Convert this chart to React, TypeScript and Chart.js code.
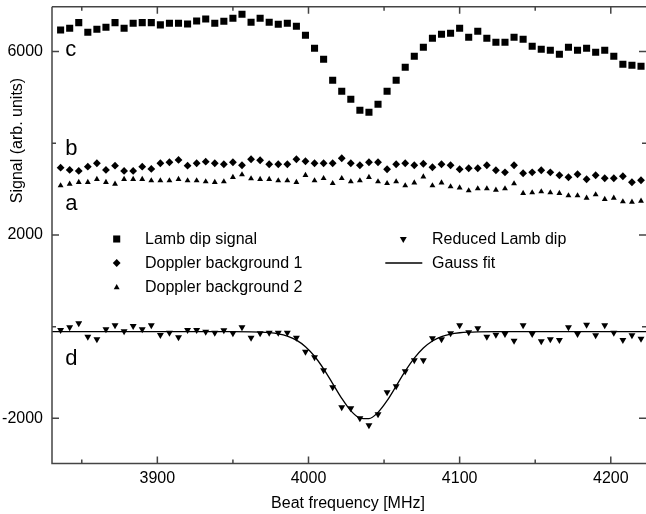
import React, { useEffect, useRef } from 'react';
import { Chart, registerables } from 'chart.js';
import { drawPoint } from 'chart.js/helpers';

Chart.register(...registerables);

// ---------- data ----------
const freq = [
  3836, 3842, 3848, 3854, 3860, 3866, 3872, 3878, 3884, 3890,
  3896, 3902, 3908, 3914, 3920, 3926, 3932, 3938, 3944, 3950,
  3956, 3962, 3968, 3974, 3980, 3986, 3992, 3998, 4004, 4010,
  4016, 4022, 4028, 4034, 4040, 4046, 4052, 4058, 4064, 4070,
  4076, 4082, 4088, 4094, 4100, 4106, 4112, 4118, 4124, 4130,
  4136, 4142, 4148, 4154, 4160, 4166, 4172, 4178, 4184, 4190,
  4196, 4202, 4208, 4214, 4220,
];

const lambDipSignal = [
  6473, 6511, 6633, 6423, 6489, 6532, 6633, 6511, 6620, 6633,
  6633, 6583, 6620, 6620, 6604, 6670, 6710, 6620, 6663, 6729,
  6816, 6641, 6729, 6641, 6598, 6620, 6554, 6358, 6074, 5834,
  5376, 5136, 4961, 4721, 4678, 4852, 5136, 5376, 5660, 5900,
  6096, 6292, 6380, 6401, 6511, 6314, 6445, 6292, 6205, 6205,
  6314, 6271, 6118, 6052, 6031, 5943, 6096, 6031, 6074, 5987,
  6031, 5900, 5725, 5703, 5681,
];

const dopplerBackground1 = [
  3469, 3419, 3397, 3491, 3565, 3419, 3513, 3397, 3397, 3491,
  3441, 3565, 3587, 3637, 3513, 3565, 3600, 3565, 3543, 3587,
  3521, 3652, 3630, 3543, 3543, 3543, 3652, 3608, 3565, 3565,
  3565, 3674, 3565, 3521, 3587, 3587, 3434, 3543, 3565, 3521,
  3554, 3478, 3543, 3521, 3434, 3456, 3456, 3521, 3412, 3368,
  3521, 3347, 3368, 3412, 3368, 3303, 3259, 3325, 3216, 3303,
  3238, 3238, 3281, 3150, 3194,
];

const dopplerBackground2 = [
  3076, 3113, 3150, 3150, 3216, 3150, 3113, 3216, 3216, 3216,
  3185, 3185, 3185, 3216, 3185, 3185, 3163, 3150, 3163, 3259,
  3316, 3229, 3216, 3216, 3185, 3185, 3150, 3303, 3185, 3237,
  3128, 3237, 3163, 3185, 3259, 3163, 3128, 3163, 3076, 3141,
  3272, 3076, 3141, 3054, 3032, 2967, 3011, 3011, 2982, 3011,
  3120, 2910, 2923, 2945, 2923, 2910, 2858, 2858, 2808, 2880,
  2780, 2808, 2727, 2720, 2742,
];

const reducedLambDip = [
  -72, -13, 74, -218, -275, -57, 31, -100, 15, -57,
  31, -181, -131, -231, -72, -72, -109, -131, -79, -144,
  -13, -240, -144, -131, -131, -131, -240, -546, -668, -952,
  -1323, -1759, -1781, -2000, -2152, -1912, -1432, -1301, -974, -733,
  -733, -253, -275, -144, 31, -122, -35, -218, -175, -159,
  -305, 31, -159, -319, -275, -290, -13, -159, 44, -188,
  31, -131, -290, -188, -262,
];

const gaussFitX = [
  3830, 3950, 3962, 3968, 3974, 3980, 3986, 3992, 3998, 4004,
  4010, 4016, 4022, 4028, 4034, 4040, 4046, 4052, 4058, 4064,
  4070, 4076, 4082, 4088, 4094, 4100, 4106, 4112, 4124, 4224,
];
const gaussFitY = [
  -110, -110, -113, -118, -130, -155, -205, -293, -436, -645,
  -920, -1241, -1565, -1835, -1993, -2006, -1869, -1615, -1296, -971,
  -687, -466, -312, -216, -161, -133, -120, -114, -110, -110,
];

const xMajorTicks = [3900, 4000, 4100, 4200];
const xMinorTicks = [3850, 3950, 4050, 4150];
const yMajorTicks = [-2000, 2000, 6000];
const yMinorTicks = [0, 4000];

const X_MIN = 3830.3;
const X_MAX = 4223.3;
const Y_MIN = -2985;
const Y_MAX = 6980;

const curveLabels = [
  { text: 'c', x: 3839, y: 5906 },
  { text: 'b', x: 3839, y: 3746 },
  { text: 'a', x: 3839, y: 2546 },
  { text: 'd', x: 3839, y: -836 },
];

const xTitle = 'Beat frequency [MHz]';
const yTitle = 'Signal (arb. units)';

const FONT_FAMILY = '"Liberation Sans", Arial, Helvetica, sans-serif';

// ---------- styles ----------
const seriesStyles = {
  lamb: { pointStyle: 'rect', radius: 5, rotation: 0 },
  bg1: { pointStyle: 'rectRot', radius: 3.9, rotation: 0 },
  bg2: { pointStyle: 'triangle', radius: 3.4, rotation: 0 },
  reduced: { pointStyle: 'triangle', radius: 4, rotation: 180 },
};

const framePlugin = {
  id: 'framePlugin',
  afterDraw(chart: any) {
    const { ctx, chartArea, scales } = chart;
    const xs = scales.x;
    const ys = scales.y;
    const { left, right, top, bottom } = chartArea;
    ctx.save();
    // frame
    ctx.strokeStyle = '#444';
    ctx.lineWidth = 1.5;
    ctx.beginPath();
    ctx.moveTo(left, top);
    ctx.lineTo(right + 1, top);
    ctx.moveTo(left, top);
    ctx.lineTo(left, bottom);
    ctx.lineTo(right + 1, bottom);
    ctx.moveTo(right + 0.8, top);
    ctx.lineTo(right + 0.8, bottom);
    ctx.stroke();
    // ticks (inside)
    const tick = (vals: number[], len: number) => {
      ctx.beginPath();
      vals.forEach((v) => {
        const px = xs.getPixelForValue(v);
        ctx.moveTo(px, bottom);
        ctx.lineTo(px, bottom - len);
        ctx.moveTo(px, top);
        ctx.lineTo(px, top + len);
      });
      ctx.stroke();
    };
    const ytick = (vals: number[], len: number) => {
      ctx.beginPath();
      vals.forEach((v) => {
        const py = ys.getPixelForValue(v);
        ctx.moveTo(left, py);
        ctx.lineTo(left + len, py);
        ctx.moveTo(right, py);
        ctx.lineTo(right - len, py);
      });
      ctx.stroke();
    };
    tick(xMajorTicks, 7);
    tick(xMinorTicks, 4);
    ytick(yMajorTicks, 7);
    ytick(yMinorTicks, 4);

    ctx.fillStyle = '#000';
    // axis titles
    ctx.font = `16px ${FONT_FAMILY}`;
    ctx.textAlign = 'center';
    ctx.textBaseline = 'alphabetic';
    ctx.fillText(xTitle, (left + right) / 2 - 1, 507.5);
    ctx.save();
    ctx.translate(22, 140.5);
    ctx.rotate(-Math.PI / 2);
    ctx.fillText(yTitle, 0, 0);
    ctx.restore();

    // curve letters
    ctx.font = `22px ${FONT_FAMILY}`;
    ctx.textAlign = 'left';
    curveLabels.forEach((l) => {
      ctx.fillText(l.text, xs.getPixelForValue(l.x), ys.getPixelForValue(l.y));
    });

    // legend
    const ds = chart.data.datasets;
    ctx.font = `16px ${FONT_FAMILY}`;
    const items = [
      { i: 0, sx: 116.7, tx: 145, y: 239 },
      { i: 1, sx: 116.7, tx: 145, y: 263 },
      { i: 2, sx: 116.7, tx: 145, y: 287.5 },
      { i: 3, sx: 403.3, tx: 432, y: 239 },
      { i: 4, sx: 403.3, tx: 432, y: 263 },
    ];
    items.forEach((it) => {
      const d = ds[it.i];
      ctx.fillStyle = '#000';
      ctx.strokeStyle = '#000';
      if (d.showLine) {
        ctx.lineWidth = 1.3;
        ctx.beginPath();
        ctx.moveTo(it.sx - 18, it.y);
        ctx.lineTo(it.sx + 19, it.y);
        ctx.stroke();
      } else {
        drawPoint(ctx, {
          pointStyle: d.pointStyle,
          rotation: d.rotation || 0,
          radius: d.pointRadius,
          borderWidth: 0,
        } as any, it.sx, it.y);
      }
      ctx.fillStyle = '#000';
      ctx.fillText(d.label, it.tx, it.y + 4.5);
    });
    ctx.restore();
  },
};

const zeroPad = (s: any) => {
  s.paddingLeft = 0;
  s.paddingRight = 0;
  s.paddingTop = 0;
  s.paddingBottom = 0;
};

export default function App() {
  const ref = useRef<HTMLCanvasElement>(null);

  useEffect(() => {
    if (!ref.current) return;
    const pts = (ys: number[]) => ys.map((y, i) => ({ x: freq[i], y }));
    const scatter = (label: string, data: number[], st: any) => ({
      label,
      data: pts(data),
      showLine: false,
      pointStyle: st.pointStyle,
      pointRadius: st.radius,
      rotation: st.rotation,
      pointRotation: st.rotation,
      backgroundColor: '#000',
      borderColor: '#000',
      borderWidth: 0,
      pointBorderWidth: 0,
    });
    const chart = new Chart(ref.current, {
      type: 'scatter',
      data: {
        datasets: [
          scatter('Lamb dip signal', lambDipSignal, seriesStyles.lamb),
          scatter('Doppler background 1', dopplerBackground1, seriesStyles.bg1),
          scatter('Doppler background 2', dopplerBackground2, seriesStyles.bg2),
          scatter('Reduced Lamb dip', reducedLambDip, seriesStyles.reduced),
          {
            label: 'Gauss fit',
            data: gaussFitX.map((x, i) => ({ x, y: gaussFitY[i] })),
            showLine: true,
            pointRadius: 0,
            borderColor: '#000',
            backgroundColor: '#000',
            borderWidth: 1.3,
            cubicInterpolationMode: 'monotone',
            fill: false,
          } as any,
        ],
      },
      options: {
        responsive: false,
        animation: false,
        devicePixelRatio: 1,
        layout: { autoPadding: false, padding: { top: 6.7, right: 0, left: 0, bottom: 0 } },
        plugins: {
          legend: { display: false },
          tooltip: { enabled: false },
        },
        scales: {
          x: {
            type: 'linear',
            min: X_MIN,
            max: X_MAX,
            afterFit: (s: any) => { s.height = 50.5; zeroPad(s); },
            afterBuildTicks: (s: any) => { s.ticks = xMajorTicks.map((v) => ({ value: v })); },
            grid: { display: false, drawTicks: false },
            border: { display: false },
            ticks: {
              color: '#000',
              font: { family: FONT_FAMILY, size: 16 },
              padding: 5,
              maxRotation: 0,
              autoSkip: false,
              callback: (v: any) => String(v),
            },
          },
          y: {
            type: 'linear',
            min: Y_MIN,
            max: Y_MAX,
            afterFit: (s: any) => { s.width = 52; zeroPad(s); },
            afterBuildTicks: (s: any) => { s.ticks = yMajorTicks.map((v) => ({ value: v })); },
            grid: { display: false, drawTicks: false },
            border: { display: false },
            ticks: {
              color: '#000',
              font: { family: FONT_FAMILY, size: 16 },
              padding: 9,
              autoSkip: false,
              callback: (v: any) => String(v),
            },
          },
        },
      } as any,
      plugins: [framePlugin],
    });
    return () => chart.destroy();
  }, []);

  return (
    <div style={{ position: 'fixed', left: 0, top: 0, width: 646, height: 514, background: '#fff' }}>
      <canvas ref={ref} width={646} height={514} style={{ display: 'block', width: 646, height: 514 }} />
    </div>
  );
}
